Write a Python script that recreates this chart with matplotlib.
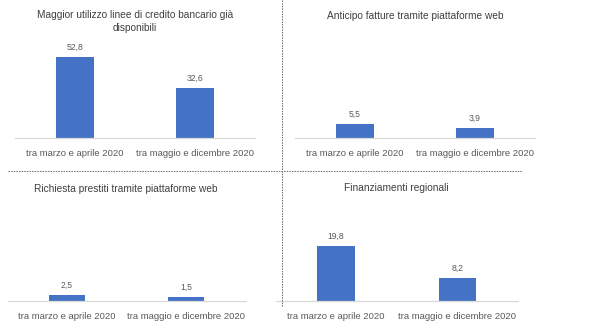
import matplotlib
matplotlib.use("Agg")
import matplotlib.pyplot as plt
from matplotlib.lines import Line2D

categories = ["tra marzo e aprile 2020", "tra maggio e dicembre 2020"]
titles = [
    "Maggior utilizzo linee di credito bancario già\ndisponibili",
    "Anticipo fatture tramite piattaforme web",
    "Richiesta prestiti tramite piattaforme web",
    "Finanziamenti regionali",
]
values_credito = [52.8, 32.6]
values_anticipo = [5.5, 3.9]
values_prestiti = [2.5, 1.5]
values_regionali = [19.8, 8.2]
series = [values_credito, values_anticipo, values_prestiti, values_regionali]

W, H = 602, 331
fig = plt.figure(figsize=(W / 100, H / 100), dpi=100)
fig.patch.set_facecolor("white")
plt.rcParams['font.family'] = ['Liberation Sans', 'DejaVu Sans']

BLUE = "#4472C4"
AX_GREY = "#d9d9d9"
LAB = "#595959"
TITLE = "#404040"

# panel layout (pixels): left, right, baseline_y, px per unit, title center x, title y
panels = [
    dict(l=15, r=255, base=138, ppu=1.534, tx=135, ty=21.5),
    dict(l=295, r=535, base=138, ppu=2.5, tx=415, ty=16),
    dict(l=7.5, r=245.5, base=301, ppu=2.4, tx=126, ty=189),
    dict(l=275.5, r=518, base=301, ppu=2.78, tx=396, ty=188),
]
AX_H = 100

def fx(x):
    return x / W

def fy(y):
    return 1 - y / H

for p, vals, title in zip(panels, series, titles):
    ax = fig.add_axes([fx(p["l"]), fy(p["base"]), (p["r"] - p["l"]) / W, AX_H / H])
    ax.set_facecolor("none")
    x = list(range(len(categories)))
    bars = ax.bar(x, vals, width=0.31, color=BLUE)
    ax.set_xlim(-0.5, 1.5)
    ax.set_ylim(0, AX_H / p["ppu"])
    for s in ["top", "right", "left"]:
        ax.spines[s].set_visible(False)
    ax.spines["bottom"].set_color(AX_GREY)
    ax.spines["bottom"].set_linewidth(0.9)
    ax.set_yticks([])
    ax.set_xticks(x)
    ax.set_xticklabels(categories, fontsize=6.8, color=LAB)
    ax.tick_params(axis="x", length=0, pad=8)
    for b, v in zip(bars, vals):
        ax.annotate(f"{v:.1f}".replace(".", ","), (b.get_x() + b.get_width() / 2, v),
                    xytext=(0, 4), textcoords="offset points", ha="center", va="bottom",
                    fontsize=6.2, color=LAB)
    fig.text(fx(p["tx"]), fy(p["ty"]), title, ha="center", va="center",
             fontsize=7.3, color=TITLE, linespacing=1.45)

# dashed separators
fig.add_artist(Line2D([fx(282), fx(282)], [fy(0), fy(306)], color="#666666",
                      linewidth=0.7, linestyle=(0, (1.5, 1.2))))
fig.add_artist(Line2D([fx(8), fx(522)], [fy(171), fy(171)], color="#666666",
                      linewidth=0.7, linestyle=(0, (1.5, 1.2))))

fig.savefig("out.png", dpi=100, facecolor="white")
